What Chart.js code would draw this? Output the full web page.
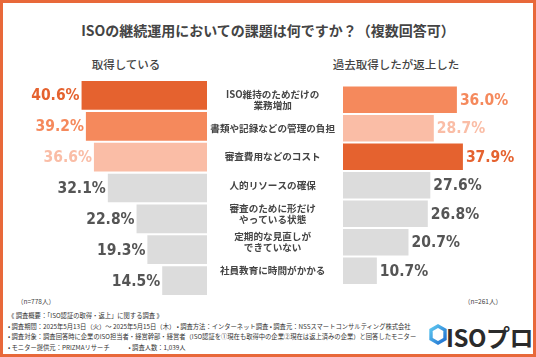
<!DOCTYPE html>
<html><head><meta charset="utf-8">
<script src="https://cdn.jsdelivr.net/npm/chart.js@4"></script>
<style>
html,body{margin:0;padding:0;background:#fff;}
body{width:536px;height:357px;position:relative;overflow:hidden;font-family:"Noto Sans CJK JP","Noto Sans",sans-serif;color:#444;}
#frame{position:absolute;left:0;top:0;width:530px;height:351px;border:3px solid #E8683A;z-index:5;pointer-events:none;}
.t{position:absolute;white-space:nowrap;}
#title{left:0;width:536px;text-align:center;top:20px;font-size:14px;font-weight:700;color:#444;}
#sub1{left:60px;width:132px;text-align:center;top:56px;font-size:11.5px;font-weight:500;}
#sub2{left:316px;width:160px;text-align:center;top:56px;font-size:11.5px;font-weight:500;}
#n1{left:17px;top:296px;font-size:6.5px;}
#n2{left:464px;top:296px;font-size:6.5px;}
.f{left:8px;font-size:6.3px;color:#333;}
#c1{position:absolute;left:0;top:80px;width:207px;height:216px;}
#c2{position:absolute;left:207px;top:80px;width:329px;height:216px;}
#logo{position:absolute;left:429px;top:324px;}
#logotxt{left:446px;top:319px;font-size:24px;font-weight:700;color:#2b2b2b;letter-spacing:-0.5px;}
</style></head><body>
<div id="frame"></div>
<div class="t" id="title">ISOの継続運用においての課題は何ですか？（複数回答可）</div>
<div class="t" id="sub1">取得している</div>
<div class="t" id="sub2">過去取得したが返上した</div>
<div id="c1"><canvas id="left"></canvas></div>
<div id="c2"><canvas id="right"></canvas></div>
<div class="t" id="n1">（n=778人）</div>
<div class="t" id="n2">（n=261人）</div>
<div class="t f" style="top:311px">《 調査概要：「ISO認証の取得・返上」に関する調査 》</div>
<div class="t f" style="top:321.5px">• 調査期間：2025年5月13日（火）～ 2025年5月15日（木） • 調査方法：インターネット調査 • 調査元：NSSスマートコンサルティング株式会社</div>
<div class="t f" style="top:332px">• 調査対象：調査回答時に企業のISO担当者・経営幹部・経営者（ISO認証を①現在も取得中の企業②現在は返上済みの企業）と回答したモニター</div>
<div class="t f" style="top:342.5px">• モニター提供元：PRIZMAリサーチ　　　• 調査人数：1,039人</div>
<svg id="logo" width="18" height="22" viewBox="0 0 18 22">
<defs><linearGradient id="g" x1="0" y1="0" x2="1" y2="1"><stop offset="0" stop-color="#5ec8f0"/><stop offset="1" stop-color="#1f6fd0"/></linearGradient></defs>
<polygon points="9,2 16,6 16,15 9,19 2,15 2,6" fill="none" stroke="url(#g)" stroke-width="3.4"/>
</svg>
<div class="t" id="logotxt">ISOプロ</div>
<script>
const categories = [
  ["ISO維持のためだけの","業務増加"],
  "書類や記録などの管理の負担",
  "審査費用などのコスト",
  "人的リソースの確保",
  ["審査のために形だけ","やっている状態"],
  ["定期的な見直しが","できていない"],
  "社員教育に時間がかかる"
];
const holding = [40.6, 39.2, 36.6, 32.1, 22.8, 19.3, 14.5];
const returned = [36.0, 28.7, 37.9, 27.6, 26.8, 20.7, 10.7];

const DARK = '#E5622F', MID = '#F5895C', LIGHT = '#FABDA6', GRAY = '#DCDCDC', GTEXT = '#555555';
function rankColors(vals, bar) {
  const sorted = [...vals].sort((a,b)=>b-a);
  return vals.map(v => {
    const r = sorted.indexOf(v);
    if (r === 0) return DARK;
    if (r === 1) return MID;
    if (r === 2) return LIGHT;
    return bar ? GRAY : GTEXT;
  });
}

const valueLabels = {
  id: 'valueLabels',
  afterDatasetsDraw(chart, args, opts) {
    const ctx = chart.ctx;
    const meta = chart.getDatasetMeta(0);
    const data = chart.data.datasets[0].data;
    const cols = rankColors(data, false);
    ctx.save();
    ctx.font = 'bold 15.5px "DejaVu Sans Condensed", "DejaVu Sans", sans-serif';
    ctx.textBaseline = 'middle';
    meta.data.forEach((bar, i) => {
      ctx.fillStyle = cols[i];
      const txt = data[i].toFixed(1) + '%';
      if (opts.side === 'left') { ctx.textAlign = 'right'; ctx.fillText(txt, bar.x - 2, bar.y + 1); }
      else { ctx.textAlign = 'left'; ctx.fillText(txt, bar.x + 3, bar.y + 1); }
    });
    ctx.restore();
  }
};

const common = {
  indexAxis: 'y',
  responsive: true,
  maintainAspectRatio: false,
  animation: false,
  layout: { padding: 0 },
  plugins: { legend: { display: false }, tooltip: { enabled: false } }
};

new Chart(document.getElementById('left'), {
  type: 'bar',
  data: { labels: categories, datasets: [{ data: holding, backgroundColor: rankColors(holding, true), barPercentage: 0.93, categoryPercentage: 1 }] },
  options: Object.assign({}, common, {
    plugins: Object.assign({}, common.plugins, { valueLabels: { side: 'left' } }),
    scales: {
      x: { display: false, reverse: true, min: 0, max: 67 },
      y: { display: false }
    }
  }),
  plugins: [valueLabels]
});

new Chart(document.getElementById('right'), {
  type: 'bar',
  data: { labels: categories, datasets: [{ data: returned, backgroundColor: rankColors(returned, true), barPercentage: 0.93, categoryPercentage: 1 }] },
  options: Object.assign({}, common, {
    plugins: Object.assign({}, common.plugins, { valueLabels: { side: 'right' } }),
    scales: {
      x: { display: false, min: 0, max: 61 },
      y: {
        grid: { display: false },
        border: { display: false },
        afterFit(scale) { scale.width = 136; },
        ticks: {
          crossAlign: 'center',
          padding: 0,
          color: '#444',
          font: { family: '"Noto Sans CJK JP", sans-serif', size: 9.6, weight: 'bold', lineHeight: 1.15 }
        }
      }
    }
  }),
  plugins: [valueLabels]
});
</script>
</body></html>
